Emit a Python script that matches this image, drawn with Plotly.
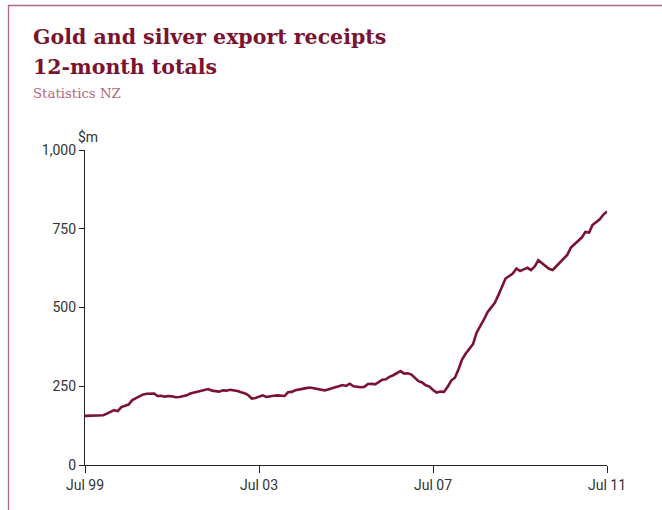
import pandas as pd
import plotly.graph_objects as go

# 12-month totals of gold and silver export receipts, $m, monthly Jul 1999 - Jul 2011
start_month = "1999-07-01"
values = [
    156, 156, 157, 157, 157, 158, 163, 170, 174, 171, 184, 188,
    192, 206, 212, 218, 224, 226, 226, 227, 219, 220, 217, 219,
    218, 215, 216, 219, 221, 227, 230, 233, 236, 237, 241, 236,
    234, 233, 237, 236, 239, 238, 235, 231, 228, 222, 211, 213,
    218, 221, 216, 219, 220, 221, 220, 219, 231, 232, 237, 240,
    242, 244, 246, 244, 242, 239, 237, 240, 244, 247, 250, 254,
    251, 258, 250, 248, 247, 248, 257, 258, 256, 263, 271, 272,
    280, 285, 292, 298, 290, 291, 287, 276, 266, 262, 253, 249,
    238, 230, 233, 232, 248, 268, 277, 305, 335, 354, 368, 384,
    420, 440, 462, 485, 500, 515, 540, 565, 592, 600, 608, 624,
    616, 621, 626, 619, 630, 650, 640, 632, 623, 619, 630, 642,
    655, 667, 690, 700, 710, 722, 740, 738, 762, 772, 780, 795,
    805,
]
dates = pd.date_range(start_month, periods=len(values), freq="MS")

x_tick_vals = ["1999-07-01", "2003-07-01", "2007-07-01", "2011-07-01"]
x_tick_text = ["Jul 99", "Jul 03", "Jul 07", "Jul 11"]
y_tick_vals = [0, 250, 500, 750, 1000]
y_tick_text = ["0", "250", "500", "750", "1,000"]

title_line1 = "Gold and silver export receipts"
title_line2 = "12-month totals"
source_text = "Statistics NZ"
unit_text = "$m"

DARK = "#7a1230"
PINK = "#b3697c"
AXIS = "#222222"
TICKFONT = dict(family="Roboto, sans-serif", size=14, color="#333333")

fig = go.Figure()
fig.add_trace(go.Scatter(
    x=dates, y=values, mode="lines",
    line=dict(color=DARK, width=2.6),
    hoverinfo="x+y", showlegend=False,
))

W, H = 662, 510
L, R, T, B = 85, 55, 150, 45
pw, ph = W - L - R, H - T - B

def px_x(p):
    return (p - L) / pw

def px_y(p):
    return (H - B - p) / ph

fig.update_layout(
    width=W, height=H,
    margin=dict(l=L, r=R, t=T, b=B),
    paper_bgcolor="white", plot_bgcolor="white",
    xaxis=dict(
        type="date",
        range=["1999-07-01", "2011-07-01"],
        tickvals=x_tick_vals, ticktext=x_tick_text,
        ticks="outside", ticklen=7, tickwidth=1.2, tickcolor=AXIS,
        showline=True, linecolor=AXIS, linewidth=1.2,
        showgrid=False, zeroline=False,
        tickfont=TICKFONT,
    ),
    yaxis=dict(
        range=[0, 1000],
        tickvals=y_tick_vals, ticktext=y_tick_text,
        ticks="outside", ticklen=5, tickwidth=1.2, tickcolor=AXIS,
        showline=True, linecolor=AXIS, linewidth=1.2,
        showgrid=False, zeroline=False,
        tickfont=TICKFONT,
    ),
    font=dict(family="Roboto, sans-serif"),
)

fig.add_annotation(
    text=title_line1, xref="paper", yref="paper",
    x=px_x(31), y=px_y(37), xanchor="left", yanchor="middle", showarrow=False,
    font=dict(family="DejaVu Serif", size=20.5, color=DARK, weight="bold"),
)
fig.add_annotation(
    text=title_line2, xref="paper", yref="paper",
    x=px_x(31), y=px_y(67), xanchor="left", yanchor="middle", showarrow=False,
    font=dict(family="DejaVu Serif", size=20.5, color=DARK, weight="bold"),
)
fig.add_annotation(
    text=source_text, xref="paper", yref="paper",
    x=px_x(31), y=px_y(94), xanchor="left", yanchor="middle", showarrow=False,
    font=dict(family="DejaVu Serif", size=13.3, color=PINK),
)
fig.add_annotation(
    text=unit_text, xref="paper", yref="paper",
    x=px_x(76), y=px_y(137), xanchor="left", yanchor="middle", showarrow=False,
    font=dict(family="Roboto, sans-serif", size=14, color="#333333"),
)

fig.add_shape(
    type="rect", xref="paper", yref="paper",
    x0=px_x(8.5), y0=px_y(530), x1=px_x(700), y1=px_y(5.5),
    line=dict(color=PINK, width=1.3), layer="below",
)

fig.write_html(
    "out.html",
    config={"displayModeBar": False},
    post_script="document.body.style.margin='0';document.body.style.overflow='hidden';",
)
